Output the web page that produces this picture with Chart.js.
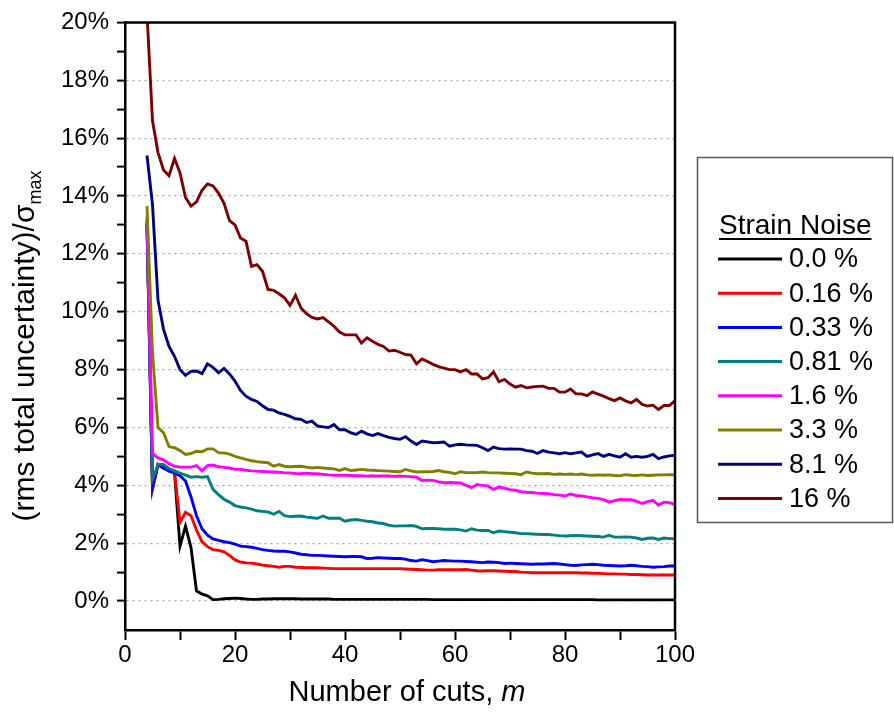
<!DOCTYPE html>
<html>
<head>
<meta charset="utf-8">
<script src="https://cdn.jsdelivr.net/npm/chart.js@4/dist/chart.umd.min.js"></script>
<style>
  html, body { margin: 0; padding: 0; background: #ffffff; }
  #wrap { width: 894px; height: 719px; }
</style>
</head>
<body>
<div id="wrap"><canvas id="c" width="894" height="719"></canvas></div>
<script>
// ---------------- DATA ----------------
const cuts = [
  4, 5, 6, 7, 8, 9, 10,
  11, 12, 13, 14, 15, 16, 17, 18, 19, 20,
  21, 22, 23, 24, 25, 26, 27, 28, 29, 30,
  31, 32, 33, 34, 35, 36, 37, 38, 39, 40,
  41, 42, 43, 44, 45, 46, 47, 48, 49, 50,
  51, 52, 53, 54, 55, 56, 57, 58, 59, 60,
  61, 62, 63, 64, 65, 66, 67, 68, 69, 70,
  71, 72, 73, 74, 75, 76, 77, 78, 79, 80,
  81, 82, 83, 84, 85, 86, 87, 88, 89, 90,
  91, 92, 93, 94, 95, 96, 97, 98, 99, 100
];

const noise0_0 = [
  13.0, 3.9, 4.72, 4.6, 4.5, 4.45, 1.9,
  2.59, 1.85, 0.35, 0.24, 0.18, 0.05, 0.06, 0.08, 0.09, 0.1,
  0.09, 0.07, 0.06, 0.06, 0.07, 0.07, 0.08, 0.08, 0.08, 0.08,
  0.08, 0.07, 0.07, 0.07, 0.07, 0.07, 0.07, 0.06, 0.06, 0.06,
  0.06, 0.06, 0.06, 0.06, 0.06, 0.06, 0.06, 0.06, 0.06, 0.06,
  0.06, 0.06, 0.06, 0.06, 0.06, 0.05, 0.05, 0.05, 0.05, 0.05,
  0.05, 0.05, 0.05, 0.05, 0.05, 0.05, 0.05, 0.05, 0.05, 0.05,
  0.05, 0.05, 0.05, 0.05, 0.05, 0.05, 0.05, 0.05, 0.05, 0.05,
  0.05, 0.05, 0.05, 0.05, 0.05, 0.04, 0.04, 0.04, 0.04, 0.04,
  0.04, 0.04, 0.04, 0.04, 0.04, 0.04, 0.04, 0.04, 0.04, 0.04
];
const noise0_16 = [
  13.05, 3.86, 4.72, 4.6, 4.5, 4.45, 2.72,
  3.07, 2.95, 2.45, 2.05, 1.88, 1.78, 1.75, 1.7, 1.58, 1.42,
  1.35, 1.32, 1.31, 1.28, 1.24, 1.22, 1.2, 1.17, 1.2, 1.2,
  1.17, 1.16, 1.15, 1.15, 1.15, 1.14, 1.13, 1.12, 1.12, 1.12,
  1.12, 1.12, 1.12, 1.12, 1.12, 1.12, 1.12, 1.12, 1.12, 1.12,
  1.11, 1.1, 1.09, 1.08, 1.07, 1.07, 1.08, 1.08, 1.08, 1.08,
  1.08, 1.09, 1.07, 1.05, 1.04, 1.05, 1.05, 1.04, 1.03, 1.02,
  1.02, 1.0, 0.99, 0.98, 0.98, 0.98, 0.98, 0.98, 0.98, 0.98,
  0.98, 0.98, 0.97, 0.97, 0.96, 0.96, 0.95, 0.94, 0.94, 0.93,
  0.93, 0.92, 0.92, 0.91, 0.9, 0.9, 0.9, 0.9, 0.9, 0.9
];
const noise0_33 = [
  13.1, 3.95, 4.72, 4.6, 4.5, 4.42, 4.33,
  4.15, 3.6, 2.95, 2.5, 2.28, 2.15, 2.1, 2.05, 2.02, 1.97,
  1.9, 1.88, 1.86, 1.82, 1.78, 1.75, 1.73, 1.72, 1.72, 1.7,
  1.66, 1.62, 1.6, 1.58, 1.58, 1.57, 1.56, 1.55, 1.54, 1.53,
  1.54, 1.54, 1.53, 1.47, 1.48, 1.5, 1.49, 1.48, 1.47, 1.47,
  1.45, 1.4, 1.38, 1.43, 1.4, 1.36, 1.38, 1.4, 1.39, 1.38,
  1.38, 1.37, 1.36, 1.34, 1.33, 1.35, 1.34, 1.33, 1.3, 1.31,
  1.3, 1.29, 1.28, 1.27, 1.28, 1.28, 1.29, 1.3, 1.28, 1.26,
  1.24, 1.23, 1.25, 1.26, 1.27, 1.26, 1.24, 1.23, 1.22, 1.21,
  1.22, 1.24, 1.22, 1.2, 1.19, 1.17, 1.18, 1.19, 1.21, 1.21
];
const noise0_81 = [
  13.2, 4.2, 4.72, 4.72, 4.58, 4.5, 4.42,
  4.35, 4.28, 4.3, 4.28, 4.3, 3.86, 3.68, 3.52, 3.42, 3.3,
  3.25, 3.22, 3.18, 3.12, 3.1, 3.08, 3.0, 3.1, 2.95, 2.92,
  2.93, 2.94, 2.9, 2.88, 2.86, 2.94, 2.86, 2.86, 2.86, 2.76,
  2.8, 2.82, 2.79, 2.76, 2.74, 2.7, 2.68, 2.62, 2.59, 2.6,
  2.6, 2.61, 2.58, 2.5, 2.51, 2.51, 2.5, 2.48, 2.48, 2.48,
  2.46, 2.42, 2.5, 2.45, 2.44, 2.44, 2.36, 2.42, 2.4, 2.38,
  2.36, 2.33, 2.33, 2.32, 2.31, 2.3, 2.3, 2.28, 2.26, 2.25,
  2.26, 2.27, 2.26, 2.25, 2.24, 2.23, 2.21, 2.27, 2.21, 2.21,
  2.22, 2.21, 2.18, 2.13, 2.17, 2.18, 2.13, 2.18, 2.16, 2.15
];
const noise1_6 = [
  13.3, 5.1, 4.95, 4.88, 4.75, 4.66, 4.63,
  4.63, 4.63, 4.68, 4.5, 4.68, 4.7, 4.64, 4.62, 4.6, 4.55,
  4.55, 4.52, 4.5, 4.49, 4.48, 4.47, 4.46, 4.45, 4.43, 4.43,
  4.41, 4.4, 4.42, 4.4, 4.4, 4.38, 4.36, 4.35, 4.35, 4.35,
  4.34, 4.33, 4.33, 4.32, 4.33, 4.32, 4.32, 4.32, 4.31, 4.32,
  4.31, 4.3, 4.28, 4.17, 4.18, 4.17, 4.12, 4.09, 4.1, 4.09,
  4.08, 4.0, 3.92, 4.03, 4.0, 3.98, 3.86, 3.94, 3.9, 3.85,
  3.83, 3.78, 3.76, 3.75, 3.73, 3.72, 3.71, 3.68, 3.66, 3.63,
  3.7, 3.65, 3.63, 3.6, 3.57, 3.55, 3.51, 3.42, 3.47, 3.51,
  3.5, 3.5, 3.45, 3.37, 3.44, 3.48, 3.32, 3.42, 3.4, 3.34
];
const noise3_3 = [
  13.65, 8.6, 6.0, 5.82, 5.34, 5.3, 5.2,
  5.07, 5.1, 5.18, 5.16, 5.26, 5.26, 5.13, 5.12, 5.08, 5.0,
  4.95, 4.9, 4.85, 4.82, 4.8, 4.78, 4.66, 4.72, 4.66, 4.64,
  4.65, 4.66, 4.63, 4.6, 4.62, 4.6, 4.58, 4.57, 4.51, 4.58,
  4.51, 4.53, 4.55, 4.53, 4.52, 4.51, 4.5, 4.49, 4.48, 4.47,
  4.55, 4.5, 4.46, 4.47, 4.47, 4.48, 4.51, 4.47, 4.45, 4.4,
  4.47, 4.44, 4.44, 4.44, 4.46, 4.44, 4.43, 4.43, 4.42, 4.41,
  4.4, 4.37, 4.46, 4.42, 4.4, 4.4, 4.41, 4.38, 4.39, 4.38,
  4.39, 4.37, 4.39, 4.36, 4.35, 4.36, 4.35, 4.36, 4.34, 4.33,
  4.37, 4.35, 4.34, 4.36, 4.34, 4.35, 4.36, 4.36, 4.37, 4.36
];
const noise8_1 = [
  15.4, 13.7, 10.4, 9.4, 8.8, 8.46, 8.0,
  7.8, 7.94, 7.95, 7.86, 8.2, 8.08, 7.89, 8.04, 7.85, 7.6,
  7.28, 7.08, 6.97, 6.9, 6.75, 6.62, 6.6, 6.5, 6.45, 6.38,
  6.3, 6.28, 6.17, 6.22, 6.05, 6.02, 6.0, 6.1, 5.92, 5.92,
  5.82, 5.76, 5.87, 5.78, 5.72, 5.79, 5.72, 5.66, 5.62, 5.59,
  5.68, 5.53, 5.41, 5.53, 5.5, 5.47, 5.48, 5.5, 5.35, 5.4,
  5.42, 5.4, 5.39, 5.38, 5.3, 5.2, 5.32, 5.27, 5.25, 5.26,
  5.25, 5.25, 5.2, 5.18, 5.1, 5.2, 5.15, 5.12, 5.09, 5.13,
  5.09, 5.12, 5.15, 5.0, 5.05, 5.1, 5.0, 5.07, 5.02, 4.97,
  5.09, 4.97, 5.0, 4.97, 5.0, 5.07, 4.92, 4.98, 5.02, 5.04
];
const noise16 = [
  20.3, 16.6, 15.5, 14.9, 14.7, 15.3, 14.8,
  13.95, 13.65, 13.8, 14.2, 14.42, 14.35, 14.1, 13.75, 13.15, 13.0,
  12.55, 12.44, 11.57, 11.63, 11.4, 10.77, 10.74, 10.62, 10.48, 10.22,
  10.57, 10.13, 9.93, 9.8, 9.75, 9.8, 9.65, 9.5, 9.3, 9.2,
  9.2, 9.2, 8.92, 9.1, 8.98, 8.87, 8.8, 8.64, 8.67, 8.6,
  8.52, 8.5, 8.2, 8.37, 8.28, 8.18, 8.1, 8.05, 8.0, 8.0,
  7.92, 8.0, 7.85, 7.85, 7.68, 7.72, 7.92, 7.58, 7.66, 7.5,
  7.39, 7.45, 7.37, 7.4, 7.42, 7.43, 7.35, 7.35, 7.22, 7.22,
  7.33, 7.16, 7.16, 7.1, 7.23, 7.15, 7.08, 7.0, 6.93, 7.02,
  6.92, 6.85, 6.97, 6.8, 6.74, 6.77, 6.62, 6.76, 6.76, 6.93
];

const seriesLabels = ['0.0 %', '0.16 %', '0.33 %', '0.81 %', '1.6 %', '3.3 %', '8.1 %', '16 %'];
const seriesColors = ['#000000', '#ff0000', '#0000ff', '#008080', '#ff00ff', '#808000', '#000080', '#800000'];
const seriesValues = [noise0_0, noise0_16, noise0_33, noise0_81, noise1_6, noise3_3, noise8_1, noise16];

const xTickLabels = [0, 20, 40, 60, 80, 100];
const yTickLabels = [0, 2, 4, 6, 8, 10, 12, 14, 16, 18, 20];
const legendTitle = 'Strain Noise';
const xTitleMain = 'Number of cuts, ';
const xTitleItalic = 'm';
const yTitleMain = '(rms total uncertainty)/\u03C3';
const yTitleSub = 'max';

// ---------------- CHART ----------------
const FONT = "'Liberation Sans', Arial, Helvetica, sans-serif";

const datasets = seriesValues.map((vals, i) => ({
  label: seriesLabels[i],
  data: vals.map((v, j) => ({ x: cuts[j], y: v })),
  borderColor: seriesColors[i],
  backgroundColor: seriesColors[i],
  borderWidth: 2.9,
  pointRadius: 0,
  pointHoverRadius: 0,
  tension: 0,
  fill: false,
  order: seriesValues.length - i
}));

const framePlugin = {
  id: 'frame',
  afterDatasetsDraw(chart) {
    const { ctx, chartArea: { left, right, top, bottom } } = chart;
    ctx.save();
    ctx.strokeStyle = '#000';
    ctx.lineWidth = 2.5;
    ctx.beginPath();
    ctx.moveTo(left - 1, top);
    ctx.lineTo(right, top);
    ctx.lineTo(right, bottom + 1);
    ctx.stroke();
    ctx.restore();
  }
};

const titlesPlugin = {
  id: 'titles',
  afterDraw(chart) {
    const { ctx, chartArea } = chart;
    ctx.save();
    ctx.fillStyle = '#000';
    // X title
    const xs = 29;
    ctx.font = `${xs}px ${FONT}`;
    const w1 = ctx.measureText(xTitleMain).width;
    ctx.font = `italic ${xs}px ${FONT}`;
    const w2 = ctx.measureText(xTitleItalic).width;
    const cx = 407;
    let sx = cx - (w1 + w2) / 2;
    ctx.textBaseline = 'alphabetic';
    ctx.textAlign = 'left';
    ctx.font = `${xs}px ${FONT}`;
    ctx.fillText(xTitleMain, sx, 701);
    ctx.font = `italic ${xs}px ${FONT}`;
    ctx.fillText(xTitleItalic, sx + w1, 701);

    // Y title (rotated)
    const ys = 30;
    const ss = 18;
    ctx.font = `${ys}px ${FONT}`;
    const m1 = ctx.measureText(yTitleMain).width;
    ctx.font = `${ss}px ${FONT}`;
    const m2 = ctx.measureText(yTitleSub).width;
    const cy = 346;
    ctx.translate(34, cy);
    ctx.rotate(-Math.PI / 2);
    const start = -(m1 + m2) / 2;
    ctx.font = `${ys}px ${FONT}`;
    ctx.fillText(yTitleMain, start, 0);
    ctx.font = `${ss}px ${FONT}`;
    ctx.fillText(yTitleSub, start + m1, 7);
    ctx.restore();
  }
};

const legendPlugin = {
  id: 'customLegend',
  afterDraw(chart) {
    const { ctx } = chart;
    ctx.save();
    // box
    ctx.strokeStyle = '#5a5a5a';
    ctx.lineWidth = 1.5;
    ctx.strokeRect(697.5, 157.5, 195, 365);
    // title
    ctx.fillStyle = '#000';
    ctx.font = `28px ${FONT}`;
    ctx.textAlign = 'left';
    ctx.textBaseline = 'alphabetic';
    ctx.fillText(legendTitle, 719, 234);
    const tw = ctx.measureText(legendTitle).width;
    ctx.strokeStyle = '#000';
    ctx.lineWidth = 2;
    ctx.beginPath();
    ctx.moveTo(719, 239);
    ctx.lineTo(719 + tw, 239);
    ctx.stroke();
    // entries
    chart.data.datasets.forEach((ds, i) => {
      const yc = 259 + i * 34.2;
      ctx.strokeStyle = ds.borderColor;
      ctx.lineWidth = 3;
      ctx.beginPath();
      ctx.moveTo(718, yc);
      ctx.lineTo(782, yc);
      ctx.stroke();
      ctx.fillStyle = '#000';
      ctx.font = `27px ${FONT}`;
      ctx.textBaseline = 'middle';
      ctx.fillText(ds.label, 789, yc + 1);
    });
    ctx.restore();
  }
};

new Chart(document.getElementById('c'), {
  type: 'line',
  data: { datasets },
  options: {
    responsive: false,
    animation: false,
    events: [],
    layout: { padding: { left: 0, right: 219, top: 21, bottom: 0 } },
    plugins: {
      legend: { display: false },
      tooltip: { enabled: false },
      title: { display: false }
    },
    scales: {
      x: {
        type: 'linear',
        min: 0,
        max: 100,
        afterFit: (s) => { s.height = 89; },
        ticks: {
          stepSize: 10,
          autoSkip: false,
          maxRotation: 0,
          color: '#000',
          padding: 1,
          font: { family: FONT, size: 24 },
          callback: (v) => (xTickLabels.includes(v) ? String(v) : '')
        },
        grid: {
          drawOnChartArea: false,
          drawTicks: true,
          tickLength: 10,
          tickColor: '#000',
          tickWidth: 2
        },
        border: { display: true, color: '#000', width: 2.5 }
      },
      y: {
        type: 'linear',
        min: -1,
        max: 20,
        afterFit: (s) => { s.width = 125; },
        ticks: {
          stepSize: 1,
          autoSkip: false,
          color: '#000',
          padding: 8,
          font: { family: FONT, size: 24 },
          callback: (v) => (yTickLabels.includes(v) ? v + '%' : '')
        },
        grid: {
          drawOnChartArea: true,
          drawTicks: true,
          tickLength: 8,
          lineWidth: 1.2,
          color: (c) => (c.tick && yTickLabels.includes(c.tick.value) && c.tick.value < 20) ? '#a8a8a8' : 'rgba(0,0,0,0)',
          tickColor: (c) => (c.tick && c.tick.value < 0) ? 'rgba(0,0,0,0)' : '#000',
          tickWidth: 2,
          tickBorderDash: []
        },
        border: { display: true, color: '#000', width: 2.5, dash: [2, 4] }
      }
    }
  },
  plugins: [framePlugin, titlesPlugin, legendPlugin]
});
</script>
</body>
</html>
